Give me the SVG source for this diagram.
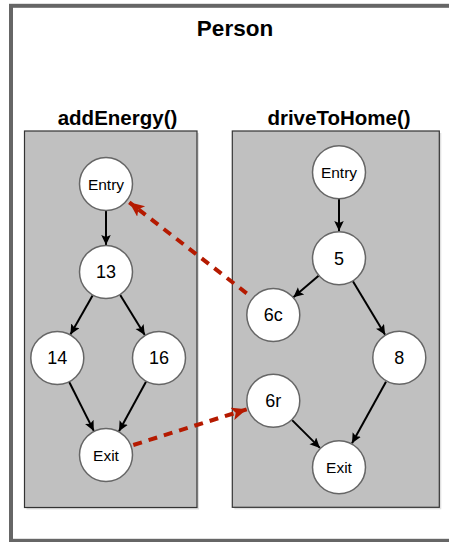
<svg xmlns="http://www.w3.org/2000/svg" width="449" height="542" viewBox="0 0 449 542">
<style>
.frame{fill:#fff;stroke:#666;stroke-width:4}
.box{fill:#c0c0c0;stroke:#333;stroke-width:1.2}
.shadow{fill:#000;opacity:0.12}
.node{fill:#fff;stroke:#666;stroke-width:1.5}
.title{font-family:"Liberation Sans",Arial,Helvetica,sans-serif;font-weight:bold;fill:#000;text-anchor:middle}
.lbl{font-family:"Liberation Sans",Arial,Helvetica,sans-serif;fill:#000;text-anchor:middle}
.small{font-size:15.5px}
.num{font-size:18px}
.edge{stroke:#000;stroke-width:2;fill:none}
.call{stroke:#b51a00;stroke-width:4;fill:none;stroke-dasharray:9 7}
</style>
<defs>
<marker id="ah" markerUnits="userSpaceOnUse" markerWidth="11" markerHeight="10" refX="10" refY="4.75" orient="auto">
<path d="M0,0 L10,4.75 L0,9.5 L2,4.75 z" fill="#000"/>
</marker>
<marker id="rh" markerUnits="userSpaceOnUse" markerWidth="16" markerHeight="14" refX="15" refY="6.5" orient="auto">
<path d="M0,0 L15,6.5 L0,13 L3.5,6.5 z" fill="#b51a00"/>
</marker>
</defs>
<g id="person">
<rect class="frame" x="11" y="5.8" width="450" height="535"/>
<text class="title" x="235" y="35.5" font-size="22.5">Person</text>
</g>
<g id="addEnergy">
<rect class="shadow" x="26.5" y="133" width="172.5" height="376.5"/>
<rect class="box" x="24.5" y="131" width="172.5" height="376.5"/>
<text class="title" x="117.5" y="124.5" font-size="20.5">addEnergy()</text>
</g>
<g id="driveToHome">
<rect class="shadow" x="234.3" y="133" width="207" height="376.3"/>
<rect class="box" x="232.3" y="131" width="207" height="376.3"/>
<text class="title" x="339" y="124.5" font-size="20.5">driveToHome()</text>
</g>
<g id="connectors">
<line class="edge" x1="106" y1="211" x2="106" y2="245" marker-end="url(#ah)"/>
<line class="edge" x1="92.6" y1="295.5" x2="70.4" y2="334.5" marker-end="url(#ah)"/>
<line class="edge" x1="120.2" y1="295" x2="144.8" y2="335" marker-end="url(#ah)"/>
<line class="edge" x1="69.2" y1="382" x2="93.8" y2="430.9" marker-end="url(#ah)"/>
<line class="edge" x1="146" y1="381.7" x2="119" y2="431.3" marker-end="url(#ah)"/>
<line class="edge" x1="339" y1="199" x2="339" y2="231" marker-end="url(#ah)"/>
<line class="edge" x1="318.6" y1="275.7" x2="293.4" y2="297.3" marker-end="url(#ah)"/>
<line class="edge" x1="352.9" y1="281.2" x2="385.1" y2="334.8" marker-end="url(#ah)"/>
<line class="edge" x1="386" y1="381.7" x2="352" y2="443.3" marker-end="url(#ah)"/>
<line class="edge" x1="292.1" y1="420.1" x2="319.9" y2="447.9" marker-end="url(#ah)"/>
<line class="call" x1="246.7" y1="293.3" x2="129.3" y2="202.3" marker-end="url(#rh)"/>
<line class="call" x1="133.3" y1="445" x2="246.7" y2="409.3" marker-end="url(#rh)"/>
</g>
<g id="ae-entry"><circle class="node" cx="106" cy="184" r="26.5"/><text class="lbl small" x="106" y="189.5">Entry</text></g>
<g id="ae-13"><circle class="node" cx="106" cy="272" r="26.5"/><text class="lbl num" x="106" y="278.3">13</text></g>
<g id="ae-14"><circle class="node" cx="57.3" cy="358" r="26.5"/><text class="lbl num" x="57.3" y="364.3">14</text></g>
<g id="ae-16"><circle class="node" cx="159" cy="358" r="26.5"/><text class="lbl num" x="159" y="364.3">16</text></g>
<g id="ae-exit"><circle class="node" cx="106" cy="455" r="26.5"/><text class="lbl small" x="106" y="460.5">Exit</text></g>
<g id="dh-entry"><circle class="node" cx="339" cy="172.3" r="26.5"/><text class="lbl small" x="339" y="177.8">Entry</text></g>
<g id="dh-5"><circle class="node" cx="339" cy="258.3" r="26.5"/><text class="lbl num" x="339" y="264.6">5</text></g>
<g id="dh-6c"><circle class="node" cx="273.3" cy="315" r="26.5"/><text class="lbl num" x="273.3" y="321.3">6c</text></g>
<g id="dh-8"><circle class="node" cx="399.3" cy="357.7" r="26.5"/><text class="lbl num" x="399.3" y="364">8</text></g>
<g id="dh-6r"><circle class="node" cx="273.3" cy="400.7" r="26.5"/><text class="lbl num" x="273.3" y="407">6r</text></g>
<g id="dh-exit"><circle class="node" cx="339" cy="467.3" r="26.5"/><text class="lbl small" x="339" y="472.8">Exit</text></g>
</svg>
